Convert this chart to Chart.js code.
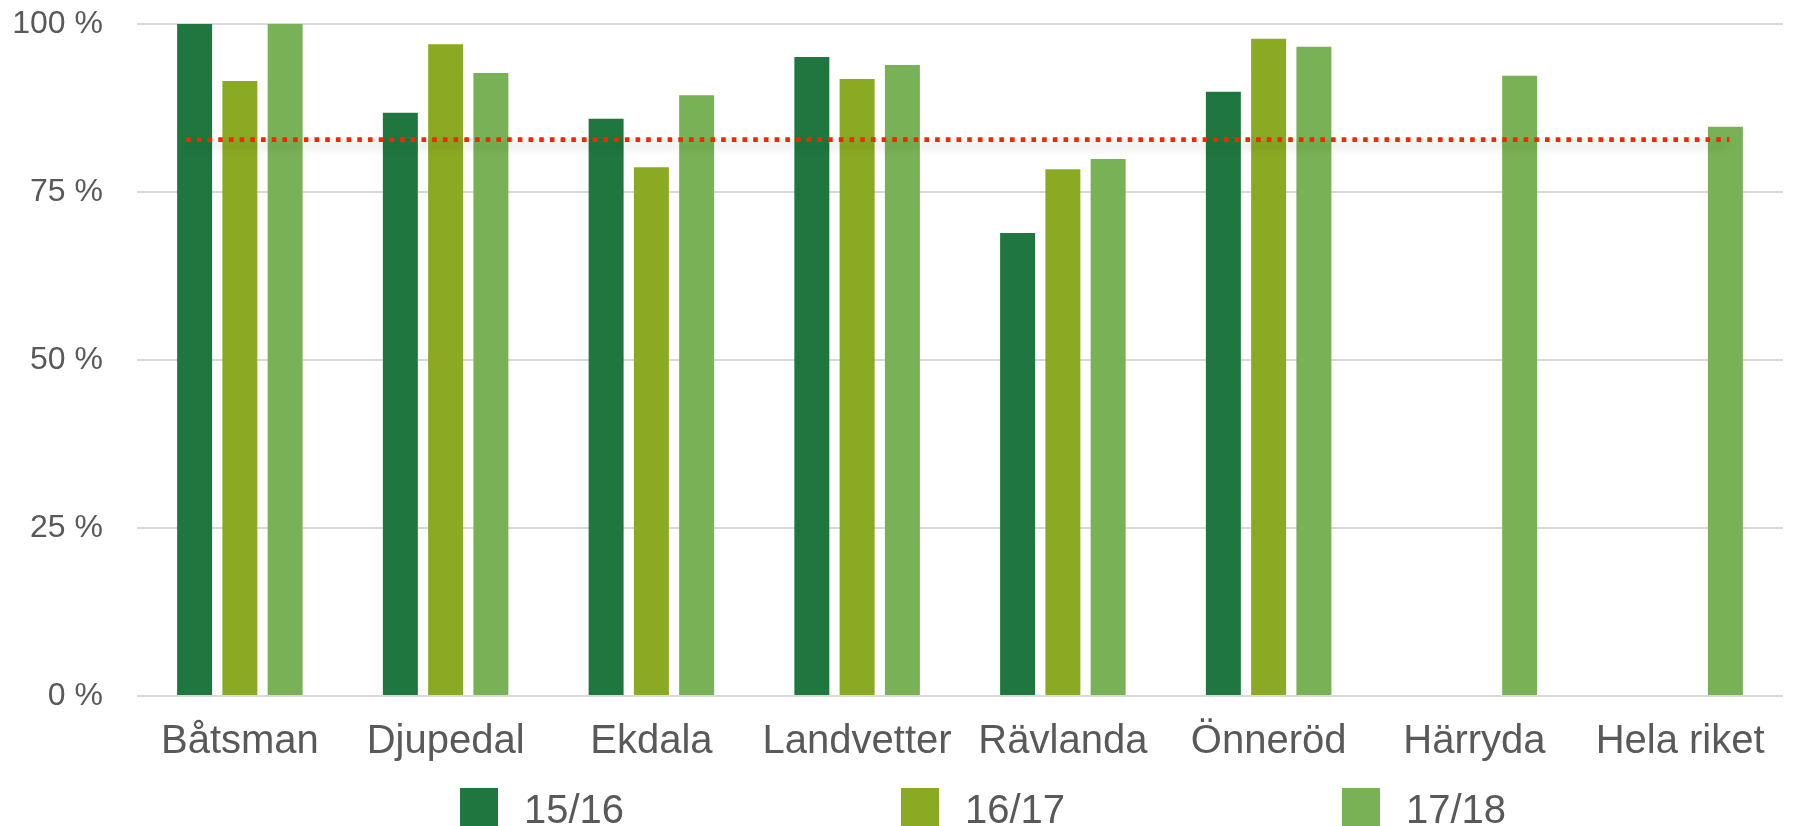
<!DOCTYPE html>
<html lang="sv">

<head>
  <meta charset="UTF-8">
  <meta name="viewport" content="width=device-width, initial-scale=1.0">
  <title>Andel per skola</title>
  <style>
    html, body { margin: 0; padding: 0; background: #fff; overflow: hidden; }
    canvas { display: block; }
  </style>
</head>

<body>
  <canvas id="chart" width="1793" height="826"></canvas>
  <script src="https://cdn.jsdelivr.net/npm/chart.js@4/dist/chart.umd.min.js"></script>
  <script>
    const skolor = ['Båtsman', 'Djupedal', 'Ekdala', 'Landvetter', 'Rävlanda', 'Önneröd', 'Härryda', 'Hela riket']
    const lasar = ['15/16', '16/17', '17/18']
    const v1516 = [100, 86.8, 85.9, 95.1, 68.9, 89.9, null, null]
    const v1617 = [91.5, 97.0, 78.7, 91.8, 78.4, 97.8, null, null]
    const v1718 = [100, 92.7, 89.4, 93.9, 79.9, 96.6, 92.3, 84.7]
    const yTicks = [0, 25, 50, 75, 100]
    // nivån för den prickade referenslinjen
    const riksniva = 82.8

    const farger = ['#1F773F', '#8BAA23', '#79B256']
    const textFarg = '#595959'
    const font = 'Liberation Sans, Arial, sans-serif'

    // röd prickad linje med skugga, från första till sista stapeln
    const referensLinje = {
      id: 'referensLinje',
      afterDatasetsDraw(chart) {
        const { ctx, scales } = chart
        const forsta = chart.getDatasetMeta(0).data[0]
        const sista = chart.getDatasetMeta(2).data[skolor.length - 1]
        const y = scales.y.getPixelForValue(riksniva)
        ctx.save()
        ctx.strokeStyle = '#FF2200'
        ctx.lineWidth = 4.6
        ctx.setLineDash([4.6, 6.1])
        ctx.shadowColor = 'rgba(0,0,0,0.28)'
        ctx.shadowBlur = 8
        ctx.shadowOffsetY = 6
        ctx.beginPath()
        ctx.moveTo(forsta.x - 8.5, y)
        ctx.lineTo(sista.x + 4, y)
        ctx.stroke()
        ctx.restore()
      }
    }

    // egen förklaring längst ner
    const forklaring = {
      id: 'forklaring',
      afterDraw(chart) {
        const { ctx } = chart
        ctx.save()
        ctx.font = '40px ' + font
        ctx.textBaseline = 'alphabetic'
        chart.data.datasets.forEach((ds, i) => {
          const x = 460 + i * 441
          ctx.fillStyle = ds.backgroundColor
          ctx.fillRect(x, 788, 38, 40)
          ctx.fillStyle = textFarg
          ctx.fillText(ds.label, x + 64, 823)
        })
        ctx.restore()
      }
    }

    const ctx = document.getElementById('chart').getContext('2d')

    new Chart(ctx, {
      type: 'bar',
      data: {
        labels: skolor,
        datasets: [
          { label: lasar[0], data: v1516, backgroundColor: farger[0] },
          { label: lasar[1], data: v1617, backgroundColor: farger[1] },
          { label: lasar[2], data: v1718, backgroundColor: farger[2] }
        ]
      },
      options: {
        responsive: false,
        animation: false,
        categoryPercentage: 0.66,
        barPercentage: 0.773,
        layout: { padding: { top: 0, right: 10, left: 0, bottom: 0 } },
        plugins: {
          legend: { display: false },
          tooltip: { enabled: false }
        },
        scales: {
          x: {
            grid: { display: false },
            border: { display: false },
            ticks: {
              color: textFarg,
              font: { family: font, size: 40 },
              padding: 14,
              maxRotation: 0,
              autoSkip: false
            },
            afterFit(scale) { scale.height = 130 }
          },
          y: {
            min: 0,
            max: 100,
            afterBuildTicks(scale) { scale.ticks = yTicks.map(v => ({ value: v })) },
            grid: { color: '#D9D9D9', lineWidth: 2, drawTicks: false },
            border: { display: false },
            ticks: {
              color: textFarg,
              font: { family: font, size: 32 },
              padding: 34,
              callback: v => v + ' %'
            },
            afterFit(scale) {
              scale.width = 137
              scale.paddingTop = 24
              scale.paddingBottom = 0
            }
          }
        }
      },
      plugins: [referensLinje, forklaring]
    })
  </script>
</body>

</html>
